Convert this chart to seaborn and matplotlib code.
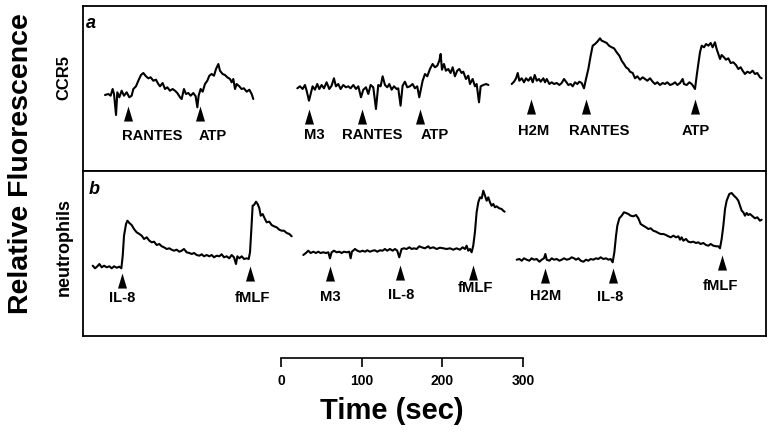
import numpy as np
import pandas as pd
import matplotlib
matplotlib.use("Agg")
import matplotlib.pyplot as plt
import seaborn as sns

# ---------------- data (time in s from start of each recording, relative fluorescence a.u.) --------------
# panel a : CCR5 transfected cells
a1_time = [0, 4.1, 7.0, 9.5, 11.2, 13.7, 15.3, 17.8, 20.7, 23.6, 26.9, 30.2, 33.1, 35.2, 38.5, 41.4, 44.7,
           47.6, 50.9, 53.8, 56.7, 60.0, 63.3, 66.2, 68.3, 71.6, 74.5, 77.4, 80.7, 84.0, 86.9, 89.8, 93.2,
           95.2, 98.1, 100.6, 103.5, 106.4, 109.7, 112.6, 114.7, 116.3, 118.8, 121.3, 124.2, 127.1, 129.6,
           132.5, 135.4, 137.9, 140.8, 142.8, 146.1, 149.0, 151.9, 155.3, 157.3, 159.4, 161.5, 163.5, 166.8,
           169.7, 172.6, 176.0, 179.3, 182.2, 184.2]
a1_fluor = [76, 77, 75.3, 82, 77, 56, 78.7, 73.7, 80.3, 75.3, 78.7, 73.7, 75.3, 82, 84.7, 90.3, 96, 98,
            94.7, 92.7, 93.7, 90.3, 91.3, 87, 84.7, 88, 82, 83.7, 80.3, 82, 80.3, 78, 73.7, 72, 82, 77, 78,
            75.3, 78, 74.7, 63.7, 75.3, 82, 79.3, 87, 90.3, 95.3, 97, 95.3, 102, 107, 100.3, 97, 96, 93.7,
            92, 88.7, 92, 82, 87, 84.7, 82, 82.7, 79.3, 81.3, 77, 72]
a1_events = ["RANTES", "ATP"]
a1_event_time = [29.0, 118.0]

a2_time = [0, 3.3, 6.6, 9.5, 11.6, 14.5, 16.6, 19.0, 21.9, 24.8, 27.3, 30.2, 33.1, 36.4, 39.7, 42.6, 45.5,
           48.0, 50.9, 53.8, 57.1, 60.4, 63.3, 66.2, 69.6, 72.9, 75.8, 79.1, 82.0, 85.3, 88.2, 91.1, 94.4,
           97.7, 100.6, 103.5, 106.0, 108.9, 111.8, 114.3, 117.2, 120.1, 123.4, 125.4, 128.3, 130.8, 133.7,
           136.6, 139.9, 143.2, 146.1, 149.0, 151.5, 155.7, 158.6, 161.5, 164.8, 168.1, 171.0, 173.9, 176.4,
           178.1, 179.7, 182.2, 184.6, 187.5, 190.4, 193.0, 195.8, 198.7, 201.2, 204.1, 206.2, 209.5, 212.4,
           214.5, 217.8, 220.7, 222.8, 225.7, 227.8, 231.1, 234.5, 237.4]
a2_fluor = [82.7, 84.7, 82, 86, 80.3, 70.3, 77, 84.7, 81.3, 87, 82, 86, 82.7, 88.7, 82, 85.3, 92.7, 84.7,
            87, 82, 86, 83.7, 84.7, 82.7, 86, 82, 84.7, 73.7, 81.3, 83.7, 77, 86, 83.7, 62, 86, 84.7, 94.7,
            86, 83.7, 87, 81.3, 84.7, 82, 82.7, 65.3, 85.3, 89.3, 83.7, 84.7, 87, 82.7, 84.7, 73.7, 90.3, 97,
            94.7, 102, 107, 103.7, 105.3, 110.3, 117, 101.3, 107, 100.3, 102, 98, 103.7, 94.7, 100.3, 102,
            98, 99.3, 92, 95.3, 87, 92, 84.7, 87, 68.7, 84.7, 86, 87, 86]
a2_events = ["M3", "RANTES", "ATP"]
a2_event_time = [14.9, 79.9, 152.4]

a3_time = [0, 2.9, 5.4, 7.5, 9.5, 12.4, 15.3, 17.8, 20.7, 23.6, 26.1, 28.6, 31.1, 33.9, 36.0, 39.3, 41.4,
           43.5, 46.8, 49.7, 52.6, 55.9, 59.2, 62.1, 65.0, 67.5, 70.4, 73.3, 75.8, 78.7, 81.6, 84.0, 86.9,
           89.8, 92.3, 95.2, 98.1, 100.6, 103.5, 106.4, 109.7, 111.8, 114.7, 118.0, 120.9, 124.2, 127.1,
           130.4, 133.7, 136.6, 139.5, 142.0, 144.9, 147.0, 150.3, 153.2, 156.1, 159.4, 162.7, 165.6, 168.5,
           171.8, 175.1, 178.0, 180.9, 184.2, 187.5, 190.4, 193.3, 196.7, 200.0, 202.9, 205.8, 209.1, 212.4,
           214.0, 217.4, 220.7, 223.6, 225.6, 227.7, 229.8, 231.8, 233.9, 236.0, 238.9, 241.4, 244.3, 247.2,
           249.6, 252.5, 254.6, 256.7, 258.8, 260.8, 263.7, 266.2, 269.1, 272.0, 275.3, 278.6, 281.5, 284.4,
           286.9, 289.8, 292.7, 296.0, 299.3, 302.2, 305.1, 308.4, 310.5]
a3_fluor = [87, 89.3, 92.7, 98, 90.3, 92.7, 88.7, 92.7, 90.3, 93.7, 88.7, 96, 90.3, 92, 89.3, 92.7, 88.7,
            92, 87, 88.7, 87, 88, 86, 88, 92, 89.3, 86, 87, 84.7, 88.7, 87, 89.3, 88, 82.7, 92, 102, 115.3,
            125.3, 127, 129.3, 132.7, 130.3, 129.3, 128, 125.3, 123.7, 122.7, 118.7, 115.3, 110.3, 107,
            103.7, 102, 99.3, 98, 92.7, 94.7, 91.3, 93.7, 92, 90.3, 92.7, 89.3, 87, 88.7, 86, 88, 87, 88.7,
            86, 87, 88.7, 86, 88, 92, 87, 86, 88.7, 87, 84.7, 82, 95.3, 107, 118.7, 125.3, 123.7, 127, 125.3,
            128, 123.7, 128.7, 122, 117, 112, 116, 113.7, 111.3, 112.7, 108, 108.7, 106, 102, 103.7, 100.3,
            97, 99.3, 98, 100.3, 97, 98, 93.7, 92.7]
a3_events = ["H2M", "RANTES", "ATP"]
a3_event_time = [24.0, 92.3, 227.7]

# panel b : neutrophils
b1_time = [0, 2.9, 5.8, 8.3, 11.2, 14.1, 17.4, 20.7, 23.6, 26.5, 29.8, 33.1, 35.6, 37.3, 38.9, 41.4, 43.1,
           45.5, 48.4, 51.3, 54.6, 58.0, 60.9, 63.8, 67.1, 70.4, 73.3, 76.2, 79.5, 82.8, 85.7, 88.6, 91.9,
           95.2, 98.1, 101.0, 104.3, 107.6, 110.5, 113.4, 116.7, 120.1, 123.0, 125.9, 129.2, 132.5, 135.4,
           138.3, 141.6, 144.9, 147.8, 150.7, 154.0, 157.3, 160.2, 163.1, 166.4, 169.7, 172.6, 175.5, 178.0,
           179.7, 182.2, 185.1, 188.0, 191.3, 193.8, 195.4, 197.1, 198.7, 200.4, 202.9, 204.9, 207.0, 208.7,
           211.1, 214.0, 216.1, 219.4, 222.3, 225.2, 228.5, 231.8, 234.7, 237.6, 241.0, 244.3, 247.2]
b1_fluor = [70.3, 67.7, 69.7, 72, 68.7, 70.3, 68.7, 69.7, 67.7, 69.7, 68.3, 69.3, 67.7, 80.3, 100.3, 112,
            115.3, 113, 111, 107, 103.7, 102, 100.3, 97, 98.7, 95.3, 93.7, 94.3, 91, 92, 89.7, 88.7, 87,
            87.7, 86.3, 85.3, 86.3, 84.3, 85.3, 87, 83.7, 83, 82, 83, 81, 80.3, 81.7, 79.7, 81, 79.7, 81,
            78.7, 80.3, 79.7, 81.7, 78.7, 79.7, 77.7, 81, 78.7, 72, 79.7, 77.7, 79.7, 77, 77.7, 77, 83.7,
            107, 130.3, 131, 134.3, 132, 127.7, 120.3, 122, 117, 113.7, 114.3, 111, 109.7, 108.7, 106.3,
            105.3, 105.3, 103, 102, 99.7]
b1_events = ["IL-8", "fMLF"]
b1_event_time = [36.8, 195.4]

b2_time = [0, 3.3, 6.2, 9.1, 12.4, 15.7, 18.6, 21.5, 24.8, 28.2, 31.1, 33.1, 35.2, 38.1, 41.4, 44.7, 47.6,
           50.5, 53.8, 57.1, 58.8, 60.4, 64.2, 67.1, 70.4, 73.7, 76.6, 79.5, 82.8, 86.1, 89.0, 91.9, 95.2,
           98.5, 101.4, 104.3, 107.6, 111.0, 113.9, 116.7, 119.2, 122.1, 125.0, 128.3, 131.7, 134.6, 137.4,
           140.8, 144.1, 147.0, 151.1, 155.3, 157.3, 161.5, 165.6, 169.7, 173.9, 178.0, 182.2, 186.3, 190.4,
           194.6, 197.9, 200.8, 202.9, 204.9, 207.0, 209.1, 211.1, 213.2, 215.3, 217.4, 219.5, 221.6, 223.6,
           225.7, 227.8, 229.8, 231.9, 233.9, 236.0, 238.1, 240.1, 243.4, 246.3, 248.4, 250.1]
b2_fluor = [81, 83, 85.3, 83, 84.3, 83, 84.3, 83, 83.7, 83, 83.7, 77.7, 83.7, 85.3, 83.7, 84.3, 83, 84.3,
            83.7, 84.3, 77.7, 84.3, 87, 85.3, 84.3, 85.3, 84.3, 85.7, 84.3, 85.3, 85.7, 84.3, 85.7, 85.3, 87,
            85.3, 87, 85.3, 87, 85.3, 78.7, 87, 87.7, 87, 88.7, 87, 87.7, 87, 89.7, 88.7, 87.7, 89.7, 87.7,
            88.7, 87, 88.3, 87.7, 87, 87.7, 86.3, 87.7, 86.3, 88.7, 87, 90.3, 85.3, 87, 83.7, 90.3, 103.7,
            123.7, 133.7, 138.7, 137.7, 145.3, 140.3, 135.3, 138.7, 133.7, 130.3, 132, 128.7, 129.7, 127.7,
            127, 125.3, 124.3]
b2_events = ["M3", "IL-8", "fMLF"]
b2_event_time = [33.1, 120.1, 210.3]

b3_time = [0, 3.3, 6.2, 9.1, 12.4, 15.7, 18.6, 21.5, 24.8, 28.2, 31.1, 33.9, 35.6, 37.3, 40.6, 43.5, 46.4,
           49.7, 53.0, 55.9, 58.8, 62.1, 65.4, 68.3, 71.2, 73.7, 76.6, 79.5, 82.8, 86.1, 89.0, 91.9, 95.2,
           98.5, 101.4, 104.3, 107.6, 111.0, 113.9, 116.7, 119.2, 121.3, 123.4, 125.0, 127.5, 130.4, 133.3,
           135.8, 138.7, 141.6, 144.9, 148.2, 151.1, 154.0, 157.3, 160.6, 163.5, 166.4, 169.7, 173.1, 176.0,
           178.8, 182.2, 185.5, 188.4, 191.3, 194.6, 197.9, 200.8, 202.9, 204.9, 207.0, 210.3, 213.2, 216.1,
           219.4, 222.7, 225.6, 228.5, 231.8, 235.2, 238.1, 241.0, 244.3, 247.6, 250.5, 252.5, 254.6, 256.7,
           258.8, 260.8, 264.1, 267.0, 269.9, 273.2, 275.3, 277.4, 279.5, 281.5, 283.6, 285.7, 287.7, 289.8,
           293.1, 296.0, 298.9, 302.2, 304.3]
b3_fluor = [76.3, 77, 75.3, 77.7, 76.3, 75.3, 77.7, 76.3, 77, 74.3, 76.3, 77.7, 82, 76.3, 75.3, 77.7, 76.3,
            77, 75.3, 76.3, 77.7, 76.3, 77, 78.7, 77.7, 76.3, 77.7, 75.3, 74.3, 76.3, 75.3, 77, 76.3, 77.7,
            77, 78.7, 77, 77.7, 76.3, 77, 73.7, 83.7, 100.3, 110.3, 117.7, 120.3, 123.7, 123, 122, 120.3,
            119.7, 121, 117.7, 112, 110.3, 108.7, 107, 107.7, 105.3, 104.3, 103, 102, 102, 101, 99.7, 98.7,
            100.3, 98.7, 99.7, 96.3, 98.7, 95.3, 97, 94.3, 93.7, 94.3, 93, 93.7, 92, 93, 91, 90.3, 92, 90.3,
            89.7, 89.7, 87.7, 97, 110.3, 127, 135.3, 142, 143, 140.3, 137.7, 135.3, 130.3, 125.3, 123.7,
            120.3, 123, 121, 122, 119.7, 117.7, 118.7, 115.3, 116.3]
b3_events = ["H2M", "IL-8", "fMLF"]
b3_event_time = [35.2, 119.2, 254.6]

scale_ticks = [0, 100, 200, 300]

# ---------------- layout (pixels of the 774x439 canvas) ----------------
FIG_W, FIG_H = 774, 439
PX_PER_SEC = 0.805
PANEL_BOX = {"a": (83, 7, 766, 172), "b": (83, 172, 766, 337)}   # left, top, right, bottom
TRACES = {
    "a1": (a1_time, a1_fluor, a1_events, a1_event_time),
    "a2": (a2_time, a2_fluor, a2_events, a2_event_time),
    "a3": (a3_time, a3_fluor, a3_events, a3_event_time),
    "b1": (b1_time, b1_fluor, b1_events, b1_event_time),
    "b2": (b2_time, b2_fluor, b2_events, b2_event_time),
    "b3": (b3_time, b3_fluor, b3_events, b3_event_time),
}
LAYOUT = {
    "a1": dict(start=105.0, tip=[65, 65], lab_y=[36, 36], lab_dx=[24, 13]),
    "a2": dict(start=297.3, tip=[62, 62, 62], lab_y=[37, 37, 37], lab_dx=[5, 11, 15]),
    "a3": dict(start=511.7, tip=[72, 72, 72], lab_y=[41, 41, 41], lab_dx=[3, 13, 1]),
    "b1": dict(start=92.7, tip=[63, 70], lab_y=[39, 39], lab_dx=[0, 2]),
    "b2": dict(start=303.3, tip=[70, 71, 71], lab_y=[40, 42, 49], lab_dx=[0, 1, 3]),
    "b3": dict(start=516.7, tip=[68, 68, 81], lab_y=[41, 40, 51], lab_dx=[1, -2, -1]),
}
ARROW = [(-0.3, -1.0), (0.3, -1.0), (0.0, 0.0)]   # tip at the data point


def fx(px):
    return px / FIG_W


def fy(px):
    return 1 - px / FIG_H


sns.set_theme(style="white")
plt.rcParams["font.family"] = ["Liberation Sans", "DejaVu Sans"]
plt.rcParams["font.weight"] = "bold"
plt.rcParams["text.color"] = "black"
plt.rcParams["axes.labelcolor"] = "black"
plt.rcParams["xtick.color"] = "black"
plt.rcParams["ytick.color"] = "black"

fig = plt.figure(figsize=(FIG_W / 100, FIG_H / 100), dpi=100)
fig.patch.set_facecolor("white")

axes = {}
for p, (l, t, r, b) in PANEL_BOX.items():
    ax = fig.add_axes([fx(l), fy(b), fx(r) - fx(l), (b - t) / FIG_H])
    ax.set_xlim(0, (r - l) / PX_PER_SEC)
    ax.set_ylim(0, b - t)
    ax.set_xticks([])
    ax.set_yticks([])
    for s in ax.spines.values():
        s.set_color("black")
        s.set_linewidth(1.3)
    axes[p] = ax

for key, (t, f, ev, evt) in TRACES.items():
    ax = axes[key[0]]
    lay = LAYOUT[key]
    off = (lay["start"] - PANEL_BOX[key[0]][0]) / PX_PER_SEC
    df = pd.DataFrame({"t": np.asarray(t) + off, "f": f, "trace": key})
    sns.lineplot(data=df, x="t", y="f", units="trace", estimator=None, sort=False,
                 color="black", linewidth=1.5, ax=ax, legend=False)
    ex = np.asarray(evt) + off
    sns.scatterplot(x=ex, y=lay["tip"], marker=ARROW, s=470, color="black",
                    linewidth=0, ax=ax, legend=False)
    for name, xe, ly, dx in zip(ev, ex, lay["lab_y"], lay["lab_dx"]):
        ax.text(xe + dx / PX_PER_SEC, ly, name, ha="center", va="center",
                fontsize=10.6, fontweight="bold", color="black")
    ax.set_xlabel("")
    ax.set_ylabel("")

fig.text(fx(91), fy(23), "a", fontsize=13, fontweight="bold", fontstyle="italic",
         ha="center", va="center", color="black")
fig.text(fx(94), fy(190), "b", fontsize=13, fontweight="bold", fontstyle="italic",
         ha="center", va="center", color="black")

fig.text(fx(21), fy(164), "Relative Fluorescence", rotation=90, fontsize=20.5,
         fontweight="bold", ha="center", va="center", color="black")
fig.text(fx(64), fy(78), "CCR5", rotation=90, fontsize=12, fontweight="bold",
         ha="center", va="center", color="black")
fig.text(fx(64), fy(247), "neutrophils", rotation=90, fontsize=13, fontweight="bold",
         ha="center", va="center", color="black")

# time scale bar
ax_s = fig.add_axes([fx(281), fy(359), fx(523) - fx(281), 0.02])
ax_s.patch.set_alpha(0)
ax_s.set_xlim(scale_ticks[0], scale_ticks[-1])
ax_s.set_ylim(0, 1)
ax_s.set_xticks(scale_ticks)
ax_s.set_xticklabels([str(v) for v in scale_ticks], fontweight="bold", color="black")
ax_s.set_yticks([])
sns.despine(ax=ax_s, left=True, top=True, right=True)
ax_s.spines["bottom"].set_color("black")
ax_s.spines["bottom"].set_linewidth(1.2)
ax_s.tick_params(axis="x", bottom=True, direction="out", length=6.5, width=1.2,
                 pad=4, labelsize=10, colors="black")
fig.text(fx(392), fy(411), "Time (sec)", fontsize=21, fontweight="bold",
         ha="center", va="center", color="black")

fig.savefig("out.png", dpi=100, facecolor="white")
